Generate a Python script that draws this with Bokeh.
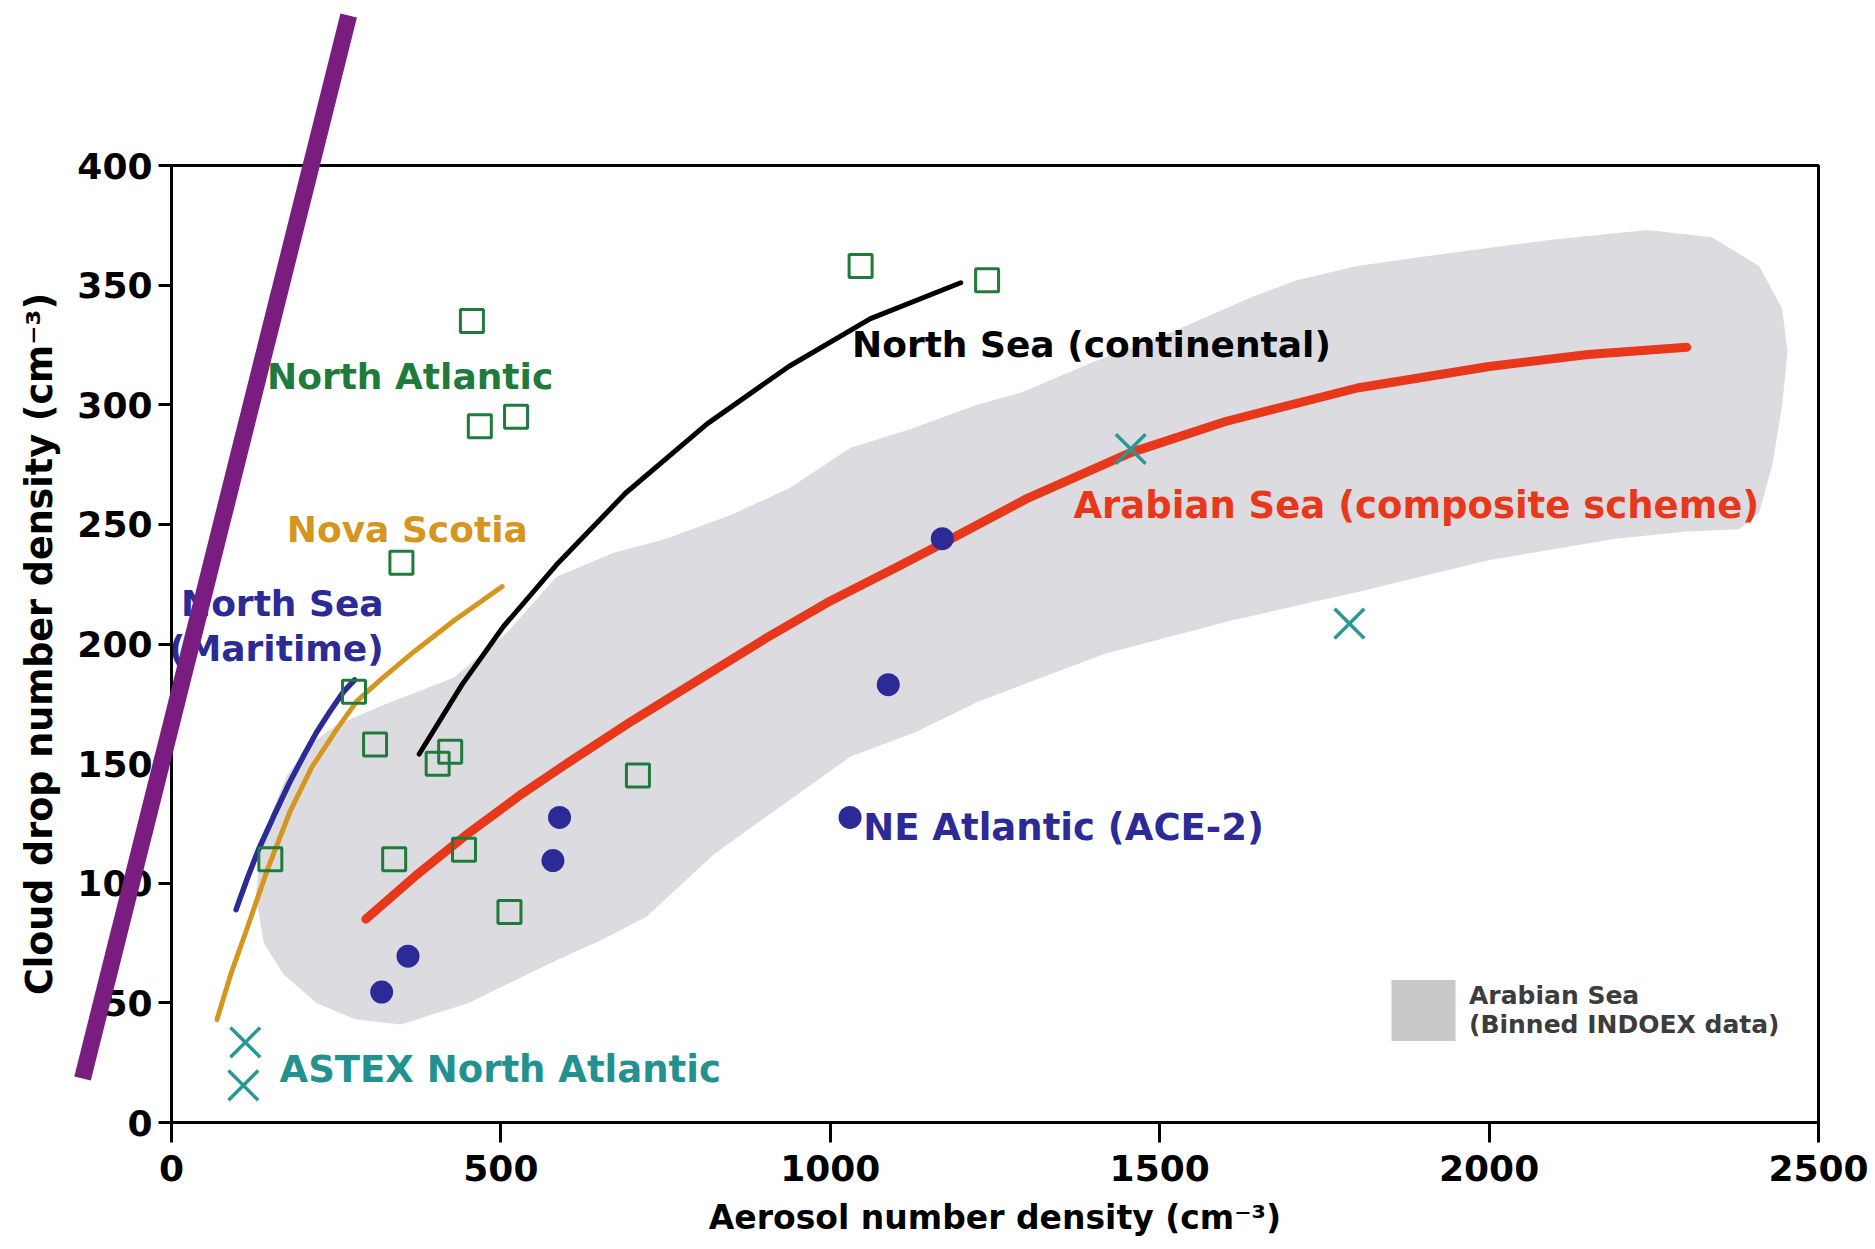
from bokeh.plotting import figure
from bokeh.models import Range1d, Legend, LegendItem
from bokeh.layouts import column
from bokeh.core.properties import value
from bokeh.embed import file_html
from bokeh.resources import INLINE

# ---------------- data ----------------
x_ticks = [0, 500, 1000, 1500, 2000, 2500]
y_ticks = [0, 50, 100, 150, 200, 250, 300, 350, 400]

# North Atlantic (open green squares)
north_atlantic_x = [456, 468, 523, 349, 277, 309, 404, 423, 708, 150, 338, 444, 513, 1046, 1238]
north_atlantic_y = [335, 291, 295, 234, 180, 158, 150, 155, 145, 110, 110, 114, 88, 358, 352]

# NE Atlantic (ACE-2) (filled blue dots)
ace2_x = [319, 359, 579, 589, 1030, 1088, 1170]
ace2_y = [54.5, 69.5, 109.5, 127.5, 127.5, 183, 244]

# ASTEX North Atlantic (teal crosses)
astex_x = [112, 109, 1456, 1788]
astex_y = [33.5, 15.5, 281.5, 208.5]

# Arabian Sea (composite scheme) curve
arabian_x = [295, 370, 451, 530, 600, 700, 800, 900, 1000, 1100, 1170, 1300, 1456, 1600, 1800, 2000, 2150, 2300]
arabian_y = [85, 103, 121, 137, 150, 168, 185, 202, 218, 232, 242, 261, 280, 293, 307, 316, 321, 324]

# North Sea (continental) curve
continental_x = [376, 441, 503, 584, 689, 813, 937, 1061, 1198]
continental_y = [154, 183, 207, 233, 263, 292, 316, 336, 351]

# Nova Scotia curve
nova_x = [69, 90, 112, 146, 180, 213, 250, 281, 317, 369, 430, 502]
nova_y = [43, 62, 79, 106, 130, 148.5, 164, 176, 185, 197, 210, 224]

# North Sea (Maritime) curve
maritime_x = [98, 115, 132, 155, 179, 200, 220, 241, 261, 278]
maritime_y = [89, 102, 114, 128, 142, 153, 163, 172, 180, 185]

# Arabian Sea, binned INDOEX data (grey envelope outline)
indoex_x = [128, 135, 150, 175, 210, 250, 317, 429, 510, 584, 670, 751, 850, 937, 1031, 1123,
            1223, 1289, 1400, 1515, 1640, 1708, 1800, 1902, 2095, 2240, 2338, 2410, 2445, 2453,
            2445, 2430, 2410, 2380, 2300, 2192, 1999, 1805, 1612, 1418, 1225, 1128, 1031, 924,
            823, 721, 650, 586, 451, 349, 280, 220, 170, 140]
indoex_y = [95, 112, 128, 145, 158, 166, 174, 186, 205, 228, 238, 244, 254, 265, 282, 290,
            300, 305, 318, 330, 345, 352, 358, 362, 369, 373, 370, 358, 340, 322,
            300, 275, 255, 248, 247, 244, 235, 222, 210, 196, 176, 163, 153, 132,
            112, 86, 76, 68, 50, 41, 43, 50, 62, 75]

# purple reference line (extends beyond the axes)
purple_x = [-135, 269]
purple_y = [18.4, 462.7]

# annotation texts and anchor positions (data coordinates)
left_labels = ["North Atlantic", "Nova Scotia", "North Sea (continental)"]
left_labels_x = [145, 175, 1033]
left_labels_y = [312, 248, 325]

wide_labels = ["Arabian Sea (composite scheme)", "NE Atlantic (ACE-2)", "ASTEX North Atlantic"]
wide_labels_x = [1369, 1050, 164]
wide_labels_y = [258, 123.5, 22]

right_labels = ["North Sea", "(Maritime)"]
right_labels_x = [322, 322]
right_labels_y = [217, 198]

legend_label = "Arabian Sea\n(Binned INDOEX data)"

# ---------------- styles ----------------
GREEN = "#1e7b3c"
NAVY = "#2c2a96"
TEAL = "#2a9896"
ORANGE = "#d4961e"
RED = "#e8381c"
PURPLE = "#7b1c80"
BLOB = "#dcdce0"
label_colors = {"North Atlantic": GREEN, "Nova Scotia": ORANGE, "North Sea (continental)": "black",
                "Arabian Sea (composite scheme)": RED, "NE Atlantic (ACE-2)": NAVY,
                "ASTEX North Atlantic": "#23918f", "North Sea": NAVY, "(Maritime)": NAVY}

W, H = 1875, 1249
L, R, T, B = 171, 57, 165, 127
FONT = "DejaVu Sans"

p = figure(width=W, height=H, x_range=Range1d(0, 2500), y_range=Range1d(0, 400),
           min_border_left=L, min_border_right=R, min_border_top=T, min_border_bottom=B,
           output_backend="svg", toolbar_location=None,
           x_axis_label="Aerosol number density (cm\u207b\u00b3)",
           y_axis_label="Cloud drop number density (cm\u207b\u00b3)")
p.xgrid.visible = False
p.ygrid.visible = False
p.outline_line_color = "black"
p.outline_line_width = 3
p.outline_line_alpha = 1
p.background_fill_color = "white"
p.border_fill_color = "white"

p.xaxis.ticker = x_ticks
p.yaxis.ticker = y_ticks
for ax in (p.xaxis[0], p.yaxis[0]):
    ax.axis_line_width = 3
    ax.major_tick_line_width = 3
    ax.major_tick_in = 0
    ax.minor_tick_in = 0
    ax.minor_tick_out = 0
    ax.major_label_text_font = FONT
    ax.major_label_text_font_style = "bold"
    ax.major_label_text_font_size = "36px"
    ax.major_label_text_color = "black"
    ax.axis_label_text_font = FONT
    ax.axis_label_text_font_style = "bold"
    ax.axis_label_text_color = "black"
p.xaxis[0].axis_label_text_font_size = "33px"
p.yaxis[0].axis_label_text_font_size = "36.5px"
p.xaxis[0].major_tick_out = 20
p.xaxis[0].major_label_standoff = 12
p.xaxis[0].axis_label_standoff = 14
p.yaxis[0].major_tick_out = 13
p.yaxis[0].major_label_standoff = 6
p.yaxis[0].axis_label_standoff = 13

# grey envelope
p.patch(indoex_x, indoex_y, fill_color=BLOB, line_color=None)

# curves
p.line(nova_x, nova_y, line_color=ORANGE, line_width=5, line_cap="round")
p.line(maritime_x, maritime_y, line_color=NAVY, line_width=5.5, line_cap="round")
p.line(continental_x, continental_y, line_color="black", line_width=5, line_cap="round")
p.line(arabian_x, arabian_y, line_color=RED, line_width=9, line_cap="round")

# points
p.scatter(north_atlantic_x, north_atlantic_y, marker="square", size=23,
          fill_color=None, line_color=GREEN, line_width=3)
p.scatter(ace2_x, ace2_y, marker="circle", size=23, fill_color=NAVY, line_color=None)
p.scatter(astex_x, astex_y, marker="x", size=42, line_color=TEAL, line_width=3.5)

# labels
p.text(x=left_labels_x, y=left_labels_y, text=left_labels,
       text_color=[label_colors[t] for t in left_labels],
       text_font=value(FONT), text_font_style="bold", text_font_size="36px",
       text_align="left", text_baseline="middle")
p.text(x=wide_labels_x, y=wide_labels_y, text=wide_labels,
       text_color=[label_colors[t] for t in wide_labels],
       text_font=value(FONT), text_font_style="bold", text_font_size="37px",
       text_align="left", text_baseline="middle")
p.text(x=right_labels_x, y=right_labels_y, text=right_labels,
       text_color=[label_colors[t] for t in right_labels],
       text_font=value(FONT), text_font_style="bold", text_font_size="36px",
       text_align="right", text_baseline="middle")

# legend swatch for the grey envelope (renderer hidden, only its legend glyph shows)
swatch = p.patch(indoex_x, indoex_y, fill_color="#c8c8c8", line_color=None, visible=False)
legend = Legend(items=[LegendItem(label=legend_label, renderers=[swatch])],
                location=(1212, 74), glyph_width=80, glyph_height=76, label_standoff=6,
                padding=0, margin=0, spacing=0, border_line_color=None,
                background_fill_alpha=0, inactive_fill_alpha=0,
                label_text_font=FONT, label_text_font_style="bold",
                label_text_font_size="25px", label_text_color="#3c3c3c",
                label_text_line_height=1.45)
p.add_layout(legend)

# transparent overlay figure with the same data->pixel mapping, so the purple
# line can extend beyond the axes box.  In a column its left/right borders are
# aligned with the main plot, so it is shifted left by L with a negative margin.
sx = (W - L - R) / 2500.0
sy = (H - T - B) / 400.0
ov = figure(width=W, height=H,
            x_range=Range1d(-L / sx, 2500 - L / sx),
            y_range=Range1d(0 - B / sy, 400 + T / sy),
            min_border_left=L, min_border_right=R, min_border_top=0, min_border_bottom=0,
            output_backend="svg", toolbar_location=None,
            x_axis_location=None, y_axis_location=None,
            background_fill_color=None, border_fill_color=None,
            outline_line_color=None, margin=(-H, 0, 0, -L))
ov.grid.visible = False
ov.line(purple_x, purple_y, line_color=PURPLE, line_width=17, line_cap="butt")

layout = column(p, ov, spacing=0)
open("out.html", "w").write(file_html(layout, INLINE))
